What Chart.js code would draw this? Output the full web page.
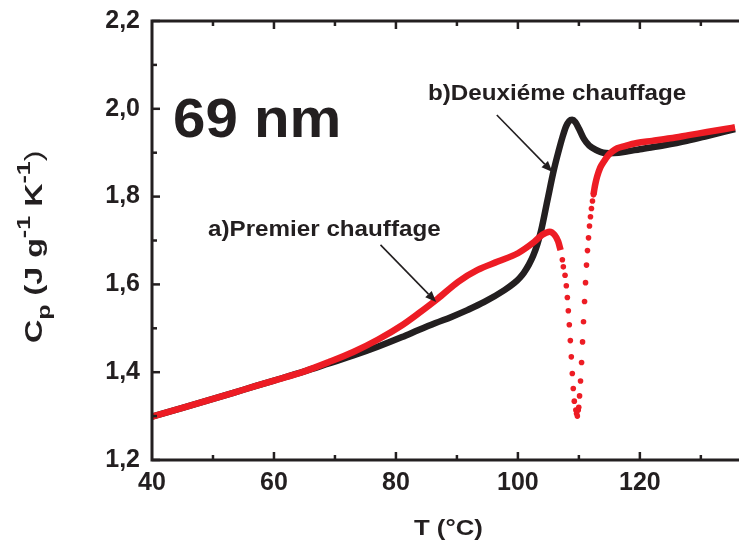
<!DOCTYPE html>
<html>
<head>
<meta charset="utf-8">
<script src="https://cdn.jsdelivr.net/npm/chart.js@4/dist/chart.umd.min.js"></script>
<style>
  html, body { margin: 0; padding: 0; background: #fff; overflow: hidden; }
  #wrap { position: relative; width: 739px; height: 545px; }
</style>
</head>
<body>
<div id="wrap"><canvas id="c"></canvas></div>
<script>
// ---- data ----
const xTicks = [40, 60, 80, 100, 120];
const xMinorTicks = [50, 70, 90, 110, 130];
const yTicks = [1.2, 1.4, 1.6, 1.8, 2.0, 2.2];
const yTickLabels = ['1,2', '1,4', '1,6', '1,8', '2,0', '2,2'];
const yMinorTicks = [1.3, 1.5, 1.7, 1.9, 2.1];

// b) Deuxiéme chauffage (black)
const secondT  = [40, 45, 50, 55, 60, 65, 69, 73, 77, 81, 83.7, 86.5, 89.1, 91.8, 94.5, 97.8, 99.4, 100.3, 101.0, 101.8, 102.5, 103.2, 103.8, 104.85, 105.9, 106.7, 107.3, 107.9, 108.4, 108.9, 109.4, 110, 110.8, 111.7, 113, 114, 115, 116.5, 118, 120, 124, 127.7, 131, 135.6];
const secondCp = [1.299, 1.319, 1.339, 1.360, 1.381, 1.402, 1.420, 1.438, 1.458, 1.480, 1.496, 1.512, 1.526, 1.542, 1.560, 1.587, 1.603, 1.615, 1.627, 1.645, 1.665, 1.692, 1.722, 1.792, 1.861, 1.905, 1.935, 1.960, 1.972, 1.975, 1.970, 1.955, 1.932, 1.916, 1.905, 1.900, 1.899, 1.900, 1.903, 1.908, 1.917, 1.927, 1.938, 1.954];

// a) Premier chauffage (red) - continuous part before the dip
const firstT1  = [40, 45, 50, 55, 60, 65, 69, 73, 77.15, 81, 83.7, 86.9, 90.2, 93.4, 96.7, 100, 102.7, 104, 105.2, 106, 106.6, 107.0];
const firstCp1 = [1.299, 1.319, 1.339, 1.360, 1.381, 1.402, 1.423, 1.446, 1.475, 1.507, 1.534, 1.568, 1.606, 1.633, 1.652, 1.671, 1.697, 1.713, 1.720, 1.713, 1.698, 1.678];
// red dots through the dip
const firstDotT  = [107.29, 107.45, 107.73, 107.94, 108.11, 108.27, 108.43, 108.60, 108.76, 108.92, 109.08, 109.25, 109.5, 109.62, 109.75, 109.9, 109.98, 110.11, 110.27, 110.44, 110.60, 110.76, 110.93, 111.09, 111.25, 111.41, 111.58, 111.74, 111.90, 112.06, 112.23, 112.39];
const firstDotCp = [1.656, 1.640, 1.621, 1.597, 1.570, 1.540, 1.508, 1.472, 1.435, 1.397, 1.363, 1.334, 1.314, 1.306, 1.300, 1.314, 1.320, 1.346, 1.380, 1.422, 1.469, 1.515, 1.561, 1.604, 1.644, 1.677, 1.706, 1.733, 1.754, 1.773, 1.790, 1.804];
// continuous part after the dip
const firstT2  = [112.39, 112.55, 112.75, 113.0, 113.5, 114.1, 114.8, 115.5, 116.3, 117.5, 119.5, 122, 125, 128, 131, 134, 135.6];
const firstCp2 = [1.804, 1.818, 1.832, 1.846, 1.866, 1.880, 1.894, 1.903, 1.910, 1.915, 1.922, 1.927, 1.933, 1.940, 1.947, 1.954, 1.958];

const pts = (xs, ys) => xs.map((v, i) => ({ x: v, y: ys[i] }));

const INK = '#231f20';
const RED = '#ed1c24';
const FONT = '"Liberation Sans", Arial, Helvetica, sans-serif';

function stretchedText(ctx, s, x, y, size, sx, weight) {
  ctx.save();
  ctx.translate(x, y);
  ctx.scale(sx, 1);
  ctx.font = (weight || 'bold') + ' ' + size + 'px ' + FONT;
  ctx.fillText(s, 0, 0);
  const w = ctx.measureText(s).width * sx;
  ctx.restore();
  return w;
}

function arrow(ctx, x0, y0, x1, y1) {
  const ang = Math.atan2(y1 - y0, x1 - x0);
  const L = 11, W = 4.5;
  const bx = x1 - L * Math.cos(ang), by = y1 - L * Math.sin(ang);
  ctx.beginPath();
  ctx.moveTo(x0, y0);
  ctx.lineTo(bx, by);
  ctx.stroke();
  ctx.beginPath();
  ctx.moveTo(x1, y1);
  ctx.lineTo(bx - W * Math.sin(ang), by + W * Math.cos(ang));
  ctx.lineTo(bx + W * Math.sin(ang), by - W * Math.cos(ang));
  ctx.closePath();
  ctx.fill();
}

const decor = {
  id: 'decor',
  afterDraw(chart) {
    const { ctx, chartArea: a, scales: { x, y } } = chart;
    ctx.save();
    ctx.strokeStyle = INK;
    ctx.fillStyle = INK;
    // frame
    ctx.lineWidth = 3;
    ctx.beginPath();
    ctx.moveTo(a.right + 5, a.top);
    ctx.lineTo(a.left, a.top);
    ctx.lineTo(a.left, a.bottom);
    ctx.lineTo(a.right + 5, a.bottom);
    ctx.stroke();
    // inward ticks
    ctx.lineWidth = 2.5;
    const seg = (x0, y0, x1, y1) => { ctx.beginPath(); ctx.moveTo(x0, y0); ctx.lineTo(x1, y1); ctx.stroke(); };
    xTicks.forEach(v => { const p = x.getPixelForValue(v); if (v > x.min) { seg(p, a.bottom, p, a.bottom - 8); seg(p, a.top, p, a.top + 8); } });
    xMinorTicks.forEach(v => { const p = x.getPixelForValue(v); seg(p, a.bottom, p, a.bottom - 5); seg(p, a.top, p, a.top + 5); });
    yTicks.forEach(v => { const p = y.getPixelForValue(v); seg(a.left, p, a.left + 8, p); });
    yMinorTicks.forEach(v => { const p = y.getPixelForValue(v); seg(a.left, p, a.left + 5, p); });

    // annotations
    ctx.textBaseline = 'alphabetic';
    ctx.textAlign = 'left';
    stretchedText(ctx, '69 nm', 173, 137, 56, 1.04);
    stretchedText(ctx, 'b)Deuxiéme chauffage', 428, 100, 22, 1.1);
    stretchedText(ctx, 'a)Premier chauffage', 208, 236, 22, 1.1);
    ctx.lineWidth = 1.6;
    arrow(ctx, x.getPixelForValue(96.54), y.getPixelForValue(1.986), x.getPixelForValue(105.66), y.getPixelForValue(1.856));
    arrow(ctx, x.getPixelForValue(77.47), y.getPixelForValue(1.690), x.getPixelForValue(86.6), y.getPixelForValue(1.560));

    // x axis title
    stretchedText(ctx, 'T (°C)', 414, 535, 22, 1.17);

    // y axis title with sub/superscripts
    ctx.save();
    ctx.translate(42, 343);
    ctx.rotate(-Math.PI / 2);
    let cx = 0;
    const sx = 1.4;
    cx += stretchedText(ctx, 'C', cx, 0, 23, sx);
    cx += stretchedText(ctx, 'p', cx, 8, 18, sx);
    cx += stretchedText(ctx, ' (J g', cx, 0, 23, sx);
    cx += stretchedText(ctx, '-1', cx, -12, 18, sx);
    cx += stretchedText(ctx, ' K', cx, 0, 23, sx);
    cx += stretchedText(ctx, '-1', cx, -12, 18, sx);
    stretchedText(ctx, ')', cx, 0, 23, sx, 'normal');
    ctx.restore();

    ctx.restore();
  }
};

new Chart(document.getElementById('c'), {
  type: 'scatter',
  data: {
    datasets: [
      {
        label: 'b)Deuxiéme chauffage',
        data: pts(secondT, secondCp),
        showLine: true,
        borderColor: INK,
        borderWidth: 6.5,
        pointRadius: 0,
        cubicInterpolationMode: 'monotone',
        order: 3
      },
      {
        label: 'a)Premier chauffage',
        data: pts(firstT1, firstCp1),
        showLine: true,
        borderColor: RED,
        borderWidth: 6.5,
        pointRadius: 0,
        cubicInterpolationMode: 'monotone',
        order: 1
      },
      {
        label: 'a)Premier chauffage (dip)',
        data: pts(firstDotT, firstDotCp),
        showLine: false,
        backgroundColor: RED,
        pointBackgroundColor: RED,
        pointBorderWidth: 0,
        pointRadius: 2.8,
        order: 1
      },
      {
        label: 'a)Premier chauffage (after)',
        data: pts(firstT2, firstCp2),
        showLine: true,
        borderColor: RED,
        borderWidth: 6.5,
        pointRadius: 0,
        cubicInterpolationMode: 'monotone',
        order: 1
      }
    ]
  },
  options: {
    responsive: true,
    maintainAspectRatio: false,
    animation: false,
    clip: false,
    layout: { padding: { top: 21, left: 0, right: 0, bottom: 0 } },
    plugins: { legend: { display: false }, tooltip: { enabled: false } },
    scales: {
      x: {
        type: 'linear',
        min: 40,
        max: 135.6,
        afterBuildTicks: s => { s.ticks = xTicks.map(v => ({ value: v })); },
        afterFit: s => { s.height = 85; s.paddingLeft = 0; s.paddingRight = 0; },
        grid: { display: false, drawTicks: false },
        border: { display: false },
        ticks: {
          color: INK,
          padding: 8,
          maxRotation: 0,
          font: { family: FONT, size: 25, weight: 'bold' },
          callback: v => String(v)
        }
      },
      y: {
        type: 'linear',
        min: 1.2,
        max: 2.2,
        afterBuildTicks: s => { s.ticks = yTicks.map(v => ({ value: v })); },
        afterFit: s => { s.width = 152; s.paddingTop = 0; s.paddingBottom = 0; },
        grid: { display: false, drawTicks: false },
        border: { display: false },
        ticks: {
          color: INK,
          padding: 12,
          font: { family: FONT, size: 25, weight: 'bold' },
          callback: (v) => { const i = yTicks.findIndex(t => Math.abs(t - v) < 1e-6); return i >= 0 ? yTickLabels[i] : ''; }
        }
      }
    }
  },
  plugins: [decor]
});
</script>
</body>
</html>
